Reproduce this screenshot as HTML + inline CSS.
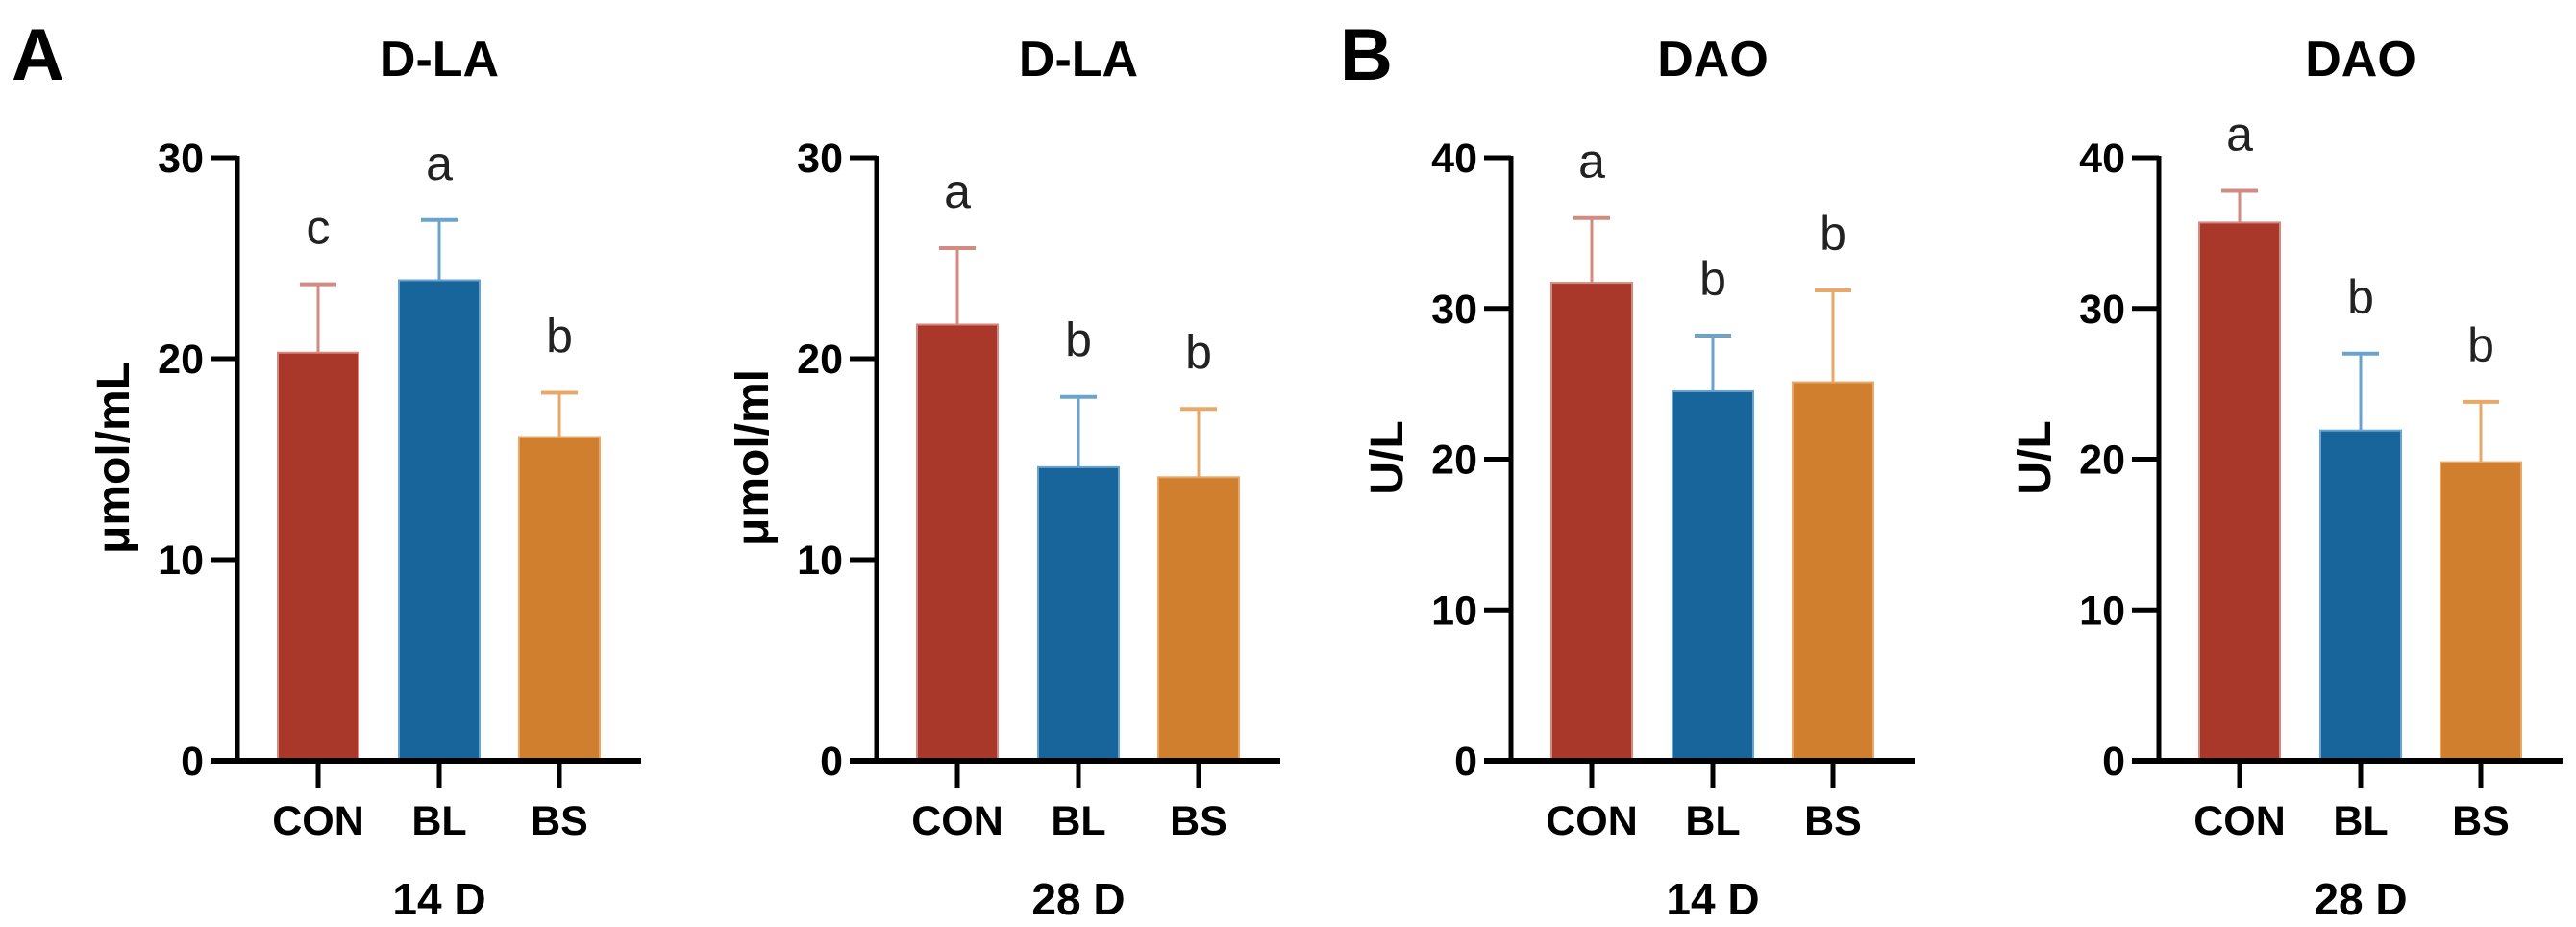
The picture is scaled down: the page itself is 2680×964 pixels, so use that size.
<!DOCTYPE html>
<html><head><meta charset="utf-8"><style>
html,body{margin:0;padding:0;background:#fff;}
svg{display:block;font-family:"Liberation Sans",Arial,sans-serif;}
</style></head><body>
<svg id="fig" width="2680" height="964" viewBox="0 0 2680 964" xmlns="http://www.w3.org/2000/svg">
<text x="12" y="83" font-size="76" font-weight="bold">A</text>
<text x="1394" y="83" font-size="76" font-weight="bold">B</text>
</svg>
<script>
const categories = ["CON","BL","BS"];
const dla14Means = [20.3, 23.9, 16.1];
const dla14Errs = [3.4, 3.0, 2.2];
const dla14Sig = ["c","a","b"];
const dla28Means = [21.7, 14.6, 14.1];
const dla28Errs = [3.8, 3.5, 3.4];
const dla28Sig = ["a","b","b"];
const dao14Means = [31.7, 24.5, 25.1];
const dao14Errs = [4.3, 3.7, 6.1];
const dao14Sig = ["a","b","b"];
const dao28Means = [35.7, 21.9, 19.8];
const dao28Errs = [2.1, 5.1, 4.0];
const dao28Sig = ["a","b","b"];
const ticks30 = [0,10,20,30];
const ticks40 = [0,10,20,30,40];

const NS="http://www.w3.org/2000/svg";
const svg=document.getElementById('fig');
const fills=["#A9382A","#17659B","#CF7F2E"];
const lights=["#D38A80","#6AA3CC","#E7A868"];
function mk(tag,attrs,parent){const e=document.createElementNS(NS,tag);for(const k in attrs)e.setAttribute(k,attrs[k]);(parent||svg).appendChild(e);return e;}

function panel(id,ax,title,ylab,xlab,yMax,ticks,means,errs,sig){
  const g=mk('g',{});
  
  
  const y0=791,yT=164;
  const yS=v=>y0-(v/yMax)*(y0-yT);
  const offs=[84,210,335];
  const xS=i=>ax+offs[i];
  const bw=84;
  const t=mk('text',{x:ax+210,y:79,'font-size':52,'font-weight':'bold','text-anchor':'middle'},g);t.textContent=title;
  
  
  for(let i=0;i<means.length;i++){
    const top=yS(means[i]),etop=yS(means[i]+errs[i]);
    const el=mk('line',{x1:xS(i),x2:xS(i),y1:top,y2:etop,stroke:lights[i],'stroke-width':3},g);
    
    
    const cap=mk('line',{x1:xS(i)-19,x2:xS(i)+19,y1:etop,y2:etop,stroke:lights[i],'stroke-width':4},g);
    
    
    const b=mk('rect',{x:xS(i)-bw/2,y:top,width:bw,height:y0-top,fill:fills[i],stroke:lights[i],'stroke-width':2},g);
    
    
    const s=mk('text',{x:xS(i),y:etop-42,'font-size':50,'text-anchor':'middle',fill:'#222'},g);s.textContent=sig[i];
    
    
    const tk=mk('line',{x1:xS(i),x2:xS(i),y1:y0,y2:819,stroke:'#000','stroke-width':5},g);
    
    
    const cl=mk('text',{x:xS(i),y:868,'font-size':43,'font-weight':'bold','text-anchor':'middle'},g);cl.textContent=categories[i];
    
    
  }
  const ya=mk('line',{x1:ax,x2:ax,y1:yT-2,y2:y0+2,stroke:'#000','stroke-width':5},g);
  
  
  const xa=mk('line',{x1:ax-28,x2:ax+420,y1:y0,y2:y0,stroke:'#000','stroke-width':6},g);
  
  
  ticks.forEach(v=>{
    const y=yS(v);
    const tl=mk('line',{x1:ax-28,x2:ax,y1:y,y2:y,stroke:'#000','stroke-width':5},g);
    
    
    const tx=mk('text',{x:ax-35,y:y+15,'font-size':43,'font-weight':'bold','text-anchor':'end'},g);tx.textContent=v;
    
    
  });
  const yl=mk('text',{x:0,y:0,'font-size':48,'font-weight':'bold','text-anchor':'middle',transform:`translate(${ax-113},476) rotate(-90)`},g);yl.textContent=ylab;
  
  
  const xl=mk('text',{x:ax+210,y:951,'font-size':46,'font-weight':'bold','text-anchor':'middle'},g);xl.textContent=xlab;
  
  
}
panel('dla-14d',247,'D-LA','μmol/mL','14 D',30,ticks30,dla14Means,dla14Errs,dla14Sig);
panel('dla-28d',912,'D-LA','μmol/ml','28 D',30,ticks30,dla28Means,dla28Errs,dla28Sig);
panel('dao-14d',1572,'DAO','U/L','14 D',40,ticks40,dao14Means,dao14Errs,dao14Sig);
panel('dao-28d',2246,'DAO','U/L','28 D',40,ticks40,dao28Means,dao28Errs,dao28Sig);
</script>
</body></html>
